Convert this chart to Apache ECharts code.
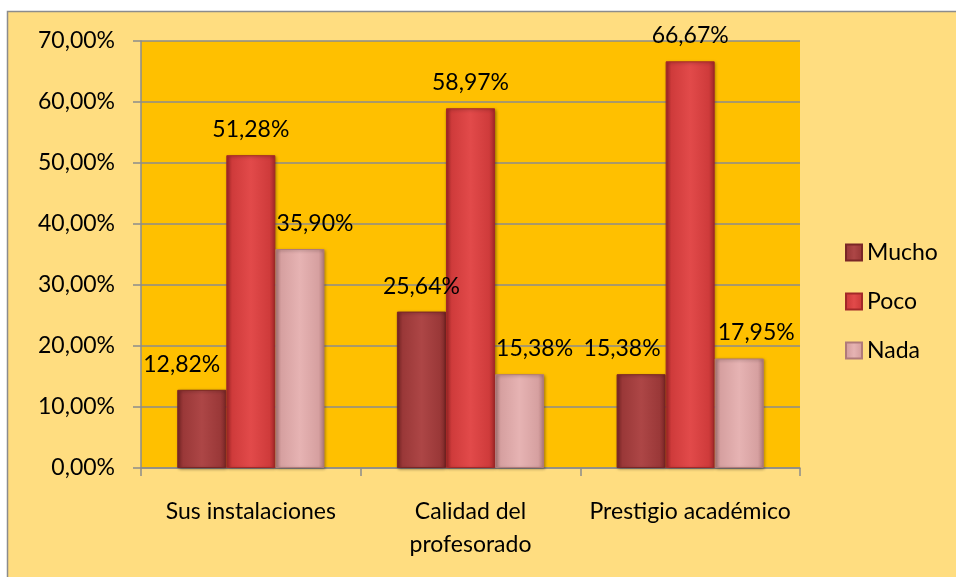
<!DOCTYPE html>
<html>
<head>
<meta charset="utf-8">
<script src="https://cdn.jsdelivr.net/npm/echarts@6/dist/echarts.min.js"></script>
<style>html,body{margin:0;padding:0;background:#fff;}#c{width:956px;height:577px;}</style>
</head>
<body>
<div id="c"></div>
<script>
const categories = ['Sus instalaciones', 'Calidad del\nprofesorado', 'Prestigio académico'];
const seriesNames = ['Mucho', 'Poco', 'Nada'];
const mucho = [12.82, 25.64, 15.38];
const poco = [51.28, 58.97, 66.67];
const nada = [35.90, 15.38, 17.95];
const yTicks = [0, 10, 20, 30, 40, 50, 60, 70];

const FONT = 'Lato, "Open Sans", sans-serif';
const FS = 23;
const colors = [
  ['#ad4646', '#9a3838', '#7a2626'],
  ['#e24a4a', '#cf3b3b', '#a32828'],
  ['#e6b3b3', '#d6a0a0', '#b07a7a']
];
// Manual label shifts as in the original (to avoid overlap)
const labelShift = [
  [[-20, 0], [0, 0], [-19, 0]],
  [[0, 0], [0, 0], [0, 0]],
  [[15, 0], [15, 0], [17, 0]]
];
const values = [mucho, poco, nada];
const fmt = v => v.toFixed(2).replace('.', ',') + '%';

const series = values.map((vals, si) => ({
  name: seriesNames[si],
  type: 'bar',
  barGap: '0%',
  barCategoryGap: '33%',
  itemStyle: {
    color: {
      type: 'linear', x: 0, y: 0, x2: 1, y2: 0,
      colorStops: [
        { offset: 0, color: colors[si][2] },
        { offset: 0.12, color: colors[si][1] },
        { offset: 0.5, color: colors[si][0] },
        { offset: 0.88, color: colors[si][1] },
        { offset: 1, color: colors[si][2] }
      ]
    },
    borderColor: colors[si][2],
    borderWidth: 1,
    shadowColor: 'rgba(0,0,0,0.35)',
    shadowBlur: 3,
    shadowOffsetX: 1,
    shadowOffsetY: 1
  },
  label: {
    show: true,
    position: 'top',
    distance: 14,
    color: '#000',
    fontFamily: FONT,
    fontSize: FS,
    formatter: p => fmt(p.value)
  },
  data: vals.map((v, ci) => ({ value: v, label: { offset: labelShift[si][ci] } }))
}));

const chart = echarts.init(document.getElementById('c'));
chart.setOption({
  backgroundColor: '#ffffff',
  animation: false,
  graphic: [{
    type: 'rect',
    shape: { x: 7.5, y: 11.5, width: 960, height: 580 },
    style: { fill: '#ffdd80', stroke: '#8c8c8c', lineWidth: 1.5 },
    z: -10
  }],
  grid: { left: 141, top: 41, right: 156, bottom: 109, show: true, backgroundColor: '#ffc000', borderWidth: 0 },
  legend: {
    orient: 'vertical',
    left: 840,
    top: 236,
    itemWidth: 16,
    itemHeight: 16,
    itemGap: 26,
    icon: 'rect',
    textStyle: { fontFamily: FONT, fontSize: FS, color: '#000' },
    data: seriesNames
  },
  xAxis: {
    type: 'category',
    data: categories,
    axisLine: { lineStyle: { color: '#8c8c8c', width: 1.5 } },
    axisTick: { show: true, alignWithLabel: false, length: 8, lineStyle: { color: '#8c8c8c', width: 1.5 } },
    axisLabel: { fontFamily: FONT, fontSize: FS, color: '#000', margin: 27, lineHeight: 33, interval: 0 }
  },
  yAxis: {
    type: 'value',
    min: yTicks[0],
    max: yTicks[yTicks.length - 1],
    interval: 10,
    axisLine: { show: true, lineStyle: { color: '#8c8c8c', width: 1.5 } },
    axisTick: { show: true, length: 8, lineStyle: { color: '#8c8c8c', width: 1.5 } },
    splitLine: { lineStyle: { color: '#8c8c8c', width: 1.5 } },
    axisLabel: { fontFamily: FONT, fontSize: FS, color: '#000', margin: 26, formatter: v => fmt(v) }
  },
  series: series
});
</script>
</body>
</html>
